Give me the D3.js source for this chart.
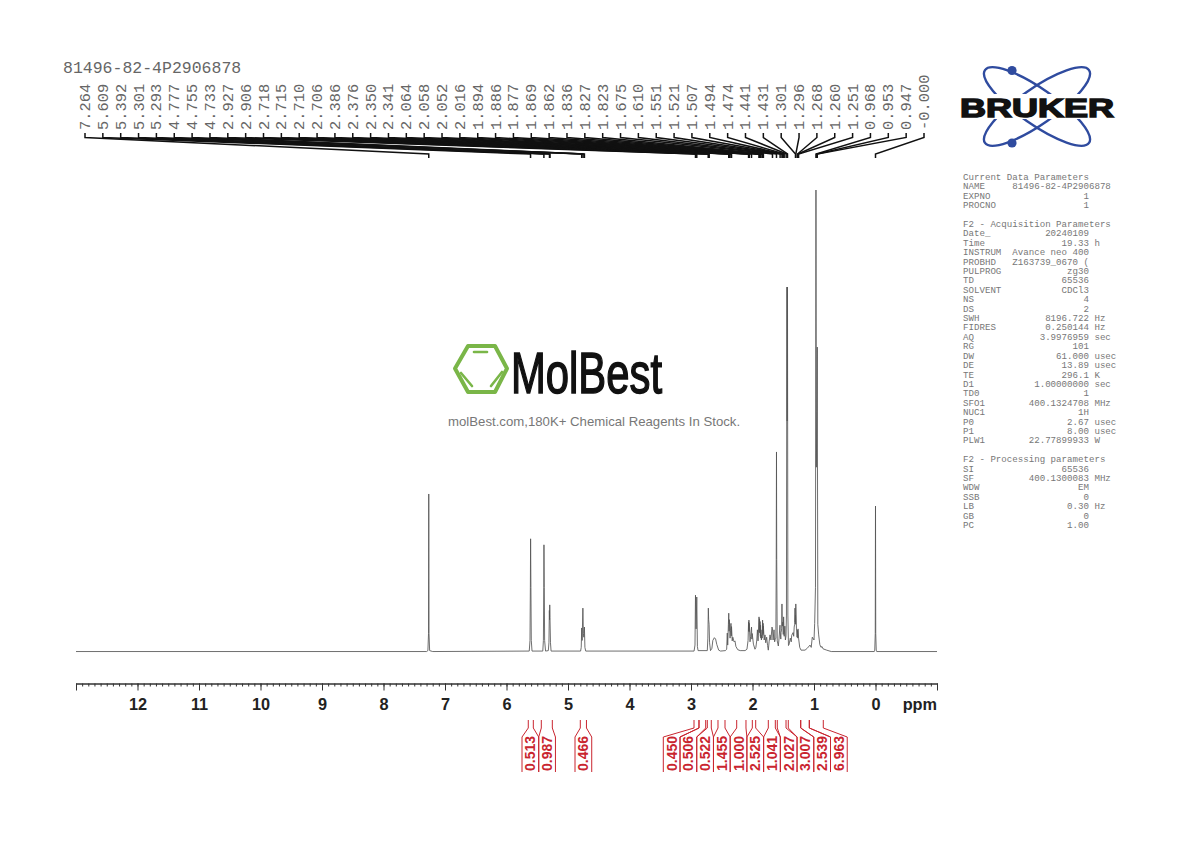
<!DOCTYPE html>
<html>
<head>
<meta charset="utf-8">
<script src="https://cdn.jsdelivr.net/npm/d3@7"></script>
<style>
  html, body { margin: 0; background: #fff; }
  svg { display: block; }
  .mono { font-family: "Liberation Mono", monospace; white-space: pre; }
  .sans { font-family: "Liberation Sans", Arial, sans-serif; }
</style>
</head>
<body>
<svg id="chart" width="1190" height="842"></svg>
<script>
const sampleName = '81496-82-4P2906878';

const peakLabels = [
  '7.264', '5.609', '5.392', '5.301', '5.293', '4.777', '4.755', '4.733',
  '2.927', '2.906', '2.718', '2.715', '2.710', '2.706', '2.386', '2.376',
  '2.350', '2.341', '2.064', '2.058', '2.052', '2.016', '1.894', '1.886',
  '1.877', '1.869', '1.862', '1.836', '1.827', '1.823', '1.675', '1.610',
  '1.551', '1.521', '1.507', '1.494', '1.474', '1.441', '1.431', '1.301',
  '1.296', '1.268', '1.260', '1.251', '0.968', '0.953', '0.947', '-0.000',
];

// [ppm, intensity], intensity is percent of the tallest line
const spectrumPoints = [
  [13, 0.1], [7.3, 0.1], [7.278, 0.3], [7.268, 4], [7.264, 34.2], [7.26, 4], [7.25, 0.3], [7.2, 0.1],
  [5.63, 0.2], [5.618, 2.5], [5.612, 14], [5.608, 24.5], [5.603, 14], [5.597, 2.5], [5.585, 0.2],
  [5.41, 0.2], [5.4, 2.5], [5.394, 14], [5.391, 23.2], [5.386, 14], [5.38, 2.5], [5.365, 0.2],
  [5.32, 0.3], [5.31, 2], [5.303, 9], [5.3, 7], [5.297, 10.2], [5.293, 7.5], [5.285, 2], [5.275, 0.2],
  [4.795, 0.2], [4.785, 1], [4.777, 5.2], [4.77, 2.5], [4.758, 9.5], [4.75, 4], [4.742, 3.2], [4.733, 5.4], [4.725, 1], [4.712, 0.2],
  [2.95, 0.2], [2.935, 1.5], [2.927, 12.3], [2.917, 5], [2.906, 11.9], [2.896, 1.2], [2.885, 0.3],
  [2.735, 0.3], [2.726, 3], [2.718, 9.5], [2.713, 7], [2.706, 6], [2.698, 2], [2.683, 0.3],
  [2.66, 0.8], [2.645, 2.5], [2.62, 3.1], [2.6, 2.8], [2.58, 1.6], [2.55, 0.4], [2.52, 0.2], [2.44, 0.3],
  [2.42, 0.6], [2.41, 4.1], [2.403, 1.5], [2.392, 6], [2.386, 8.4], [2.381, 4.5], [2.376, 7], [2.365, 3], [2.358, 4.6], [2.35, 6.2], [2.345, 3.5], [2.341, 5.5], [2.33, 2.4], [2.32, 3.2], [2.3, 2.2], [2.285, 2.4], [2.27, 1.2], [2.24, 0.5], [2.2, 0.3], [2.12, 0.3],
  [2.09, 0.6], [2.072, 2.5], [2.064, 6.5], [2.061, 4.5], [2.058, 6.9], [2.055, 4.4], [2.052, 6.2], [2.04, 2.2], [2.03, 3.4], [2.016, 5.4], [2.01, 2.8], [2.005, 4], [1.985, 1.7], [1.96, 0.6],
  [1.945, 1], [1.93, 2.6], [1.92, 4.8], [1.91, 2.4], [1.905, 3.5], [1.894, 7.6], [1.89, 4.3], [1.886, 7.2], [1.881, 4.1], [1.877, 6.6], [1.872, 3.4], [1.869, 5.8], [1.865, 3], [1.862, 4.8], [1.855, 2.6], [1.85, 3.6],
  [1.842, 3], [1.836, 6.9], [1.831, 3.6], [1.827, 6.2], [1.825, 4], [1.823, 5.6], [1.81, 2.6], [1.797, 3.7], [1.785, 2], [1.77, 3.2], [1.755, 1.4], [1.743, 0.4], [1.73, 2.2], [1.715, 3.7], [1.7, 2.6], [1.683, 5.4], [1.675, 5], [1.665, 2.6], [1.65, 4.8], [1.64, 2.2], [1.63, 2.8],
  [1.62, 3], [1.614, 20], [1.61, 43.3], [1.606, 20], [1.598, 2.4], [1.58, 1.3], [1.568, 3], [1.553, 5.8], [1.551, 4.6], [1.54, 2.8], [1.535, 4.2], [1.526, 5], [1.521, 10.4], [1.515, 5.6], [1.507, 6.5], [1.5, 3.8], [1.494, 7.6], [1.485, 3.4], [1.474, 5.6], [1.465, 2.6], [1.455, 3.5],
  [1.448, 8], [1.441, 79], [1.436, 50], [1.431, 79], [1.425, 8], [1.415, 1.4], [1.406, 1.6], [1.385, 3], [1.37, 2.2], [1.363, 3.6], [1.34, 4.2], [1.33, 3.4], [1.322, 5.4],
  [1.315, 6], [1.309, 9.5], [1.305, 6.5], [1.301, 8], [1.299, 6], [1.296, 10.4], [1.285, 5], [1.275, 3.2], [1.268, 4.7], [1.264, 3], [1.26, 5], [1.251, 3], [1.232, 1], [1.211, 0.4], [1.146, 0.4], [1.11, 0.8], [1.065, 1.5], [1.045, 1], [1.028, 3.2], [1.0, 2.6], [0.989, 6.2],
  [0.976, 14], [0.968, 100], [0.962, 40], [0.953, 52], [0.947, 66], [0.938, 6], [0.924, 3.7], [0.905, 1.6], [0.886, 1], [0.87, 1.2], [0.854, 0.7], [0.794, 0.4], [0.72, 0.1],
  [0.02, 0.1], [0.012, 0.4], [0.004, 4], [0, 31.6], [-0.004, 4], [-0.012, 0.4], [-0.02, 0.1], [-1, 0.1],
];

const integralValues = ['0.513', '0.987', '0.466', '0.450', '0.506', '0.522', '1.455', '1.000', '2.525', '1.041', '2.027', '3.007', '2.539', '6.963'];
const integralFrom = [5.646, 5.434, 4.80, 2.951, 2.870, 2.735, 2.561, 2.257, 2.003, 1.743, 1.597, 1.418, 1.216, 1.076];
const integralTo = [5.564, 5.255, 4.70, 2.870, 2.761, 2.670, 2.447, 2.106, 1.948, 1.629, 1.455, 1.216, 1.076, 0.849];

const majorTicks = d3.range(-1, 14);
const minorTicks = d3.range(-10, 131).map((d) => d / 10);

const paramRows = [
  'Current Data Parameters',
  ['NAME', sampleName],
  ['EXPNO', '1'],
  ['PROCNO', '1'],
  '',
  'F2 - Acquisition Parameters',
  ['Date_', '20240109'],
  ['Time', '19.33', 'h'],
  ['INSTRUM', 'Avance neo 400'],
  ['PROBHD', 'Z163739_0670 ('],
  ['PULPROG', 'zg30'],
  ['TD', '65536'],
  ['SOLVENT', 'CDCl3'],
  ['NS', '4'],
  ['DS', '2'],
  ['SWH', '8196.722', 'Hz'],
  ['FIDRES', '0.250144', 'Hz'],
  ['AQ', '3.9976959', 'sec'],
  ['RG', '101'],
  ['DW', '61.000', 'usec'],
  ['DE', '13.89', 'usec'],
  ['TE', '296.1', 'K'],
  ['D1', '1.00000000', 'sec'],
  ['TD0', '1'],
  ['SFO1', '400.1324708', 'MHz'],
  ['NUC1', '1H'],
  ['P0', '2.67', 'usec'],
  ['P1', '8.00', 'usec'],
  ['PLW1', '22.77899933', 'W'],
  '',
  'F2 - Processing parameters',
  ['SI', '65536'],
  ['SF', '400.1300083', 'MHz'],
  ['WDW', 'EM'],
  ['SSB', '0'],
  ['LB', '0.30', 'Hz'],
  ['GB', '0'],
  ['PC', '1.00'],
];

const svg = d3.select('#chart');
const red = '#c9252f';
const x = d3.scaleLinear().domain([13, -1]).range([76, 937]);
const y = d3.scaleLinear().domain([0, 100]).range([652, 190]);

function drawSpectrum() {
  const line = d3.line().x((d) => x(d[0])).y((d) => y(d[1]));
  svg.append('path')
    .datum(spectrumPoints)
    .attr('d', line)
    .attr('fill', 'none')
    .attr('stroke', '#555')
    .attr('stroke-width', 0.85);
}

function drawAxis() {
  const axisY = 683.5;
  const minor = svg.append('g').attr('transform', `translate(0,${axisY})`)
    .call(d3.axisBottom(x).tickValues(minorTicks).tickSize(3).tickSizeOuter(0).tickFormat(''));
  const major = svg.append('g').attr('transform', `translate(0,${axisY})`)
    .call(d3.axisBottom(x).tickValues(majorTicks).tickSize(7).tickSizeOuter(0).tickPadding(8)
      .tickFormat((d) => (d < 0 || d > 12 ? '' : d)));
  minor.selectAll('line,path').attr('stroke', '#333');
  major.selectAll('line,path').attr('stroke', '#333');
  major.selectAll('text')
    .attr('class', 'sans')
    .attr('font-size', 16.3)
    .attr('font-weight', 'bold')
    .attr('fill', '#222');
  svg.append('text')
    .attr('class', 'sans')
    .attr('x', 937)
    .attr('y', 710)
    .attr('text-anchor', 'end')
    .attr('font-size', 16.3)
    .attr('font-weight', 'bold')
    .attr('fill', '#222')
    .text('ppm');
}

function drawPeakLabels() {
  const labelX = d3.scalePoint().domain(peakLabels).range([85, 924]);
  svg.append('text')
    .attr('class', 'mono')
    .attr('x', 63)
    .attr('y', 73)
    .attr('font-size', 16.5)
    .attr('fill', '#666')
    .text(sampleName);

  svg.selectAll('.peak-label')
    .data(peakLabels)
    .join('text')
    .attr('class', 'mono peak-label')
    .attr('transform', (d) => `translate(${labelX(d) + 5},130) rotate(-90)`)
    .attr('font-size', 15.4)
    .attr('fill', '#666')
    .text((d) => d);

  svg.selectAll('.peak-leader')
    .data(peakLabels)
    .join('path')
    .attr('class', 'peak-leader')
    .attr('d', (d) => d3.line()([
      [labelX(d), 133], [labelX(d), 137.5], [x(+d), 154], [x(+d), 158],
    ]))
    .attr('fill', 'none')
    .attr('stroke', '#111')
    .attr('stroke-width', 1.5);
}

function drawIntegrals() {
  // three label groups sit side by side under the spectrum
  const groupStart = [522, 522, 575, 663.3, 663.3, 663.3, 663.3, 663.3, 663.3, 663.3, 663.3, 663.3, 663.3, 663.3];
  const groupIndex = [0, 1, 0, 0, 1, 2, 3, 4, 5, 6, 7, 8, 9, 10];
  const boxWidth = 16.72;
  const g = svg.append('g').attr('fill', 'none').attr('stroke', red).attr('stroke-width', 1);

  integralValues.forEach((value, i) => {
    const left = groupStart[i] + groupIndex[i] * boxWidth;
    const right = left + boxWidth;
    g.append('path').attr('d', d3.line()([
      [x(integralFrom[i]), 720], [x(integralFrom[i]), 728], [left, 737], [left, 772],
    ]));
    g.append('path').attr('d', d3.line()([
      [x(integralTo[i]), 720], [x(integralTo[i]), 728], [right, 737], [right, 772],
    ]));
    svg.append('text')
      .attr('class', 'sans')
      .attr('transform', `translate(${left + boxWidth / 2 + 5},771) rotate(-90)`)
      .attr('font-size', 14)
      .attr('font-weight', 'bold')
      .attr('fill', red)
      .text(value);
  });
}

function drawParameters() {
  const rowY = d3.scaleLinear().domain([0, 37]).range([180, 528]);
  const rowText = (row) => {
    if (typeof row === 'string') return row;
    const [name, value, unit] = row;
    return `${name.padEnd(9)}${value.padStart(14)}${unit ? ` ${unit}` : ''}`;
  };
  svg.selectAll('.param')
    .data(paramRows)
    .join('text')
    .attr('class', 'mono param')
    .attr('x', 963)
    .attr('y', (d, i) => rowY(i))
    .attr('font-size', 9.13)
    .attr('fill', '#777')
    .text(rowText);
}

function drawBrukerLogo() {
  const blue = '#2f4b9f';
  const logo = svg.append('g');
  [-35, 35].forEach((angle) => {
    logo.append('ellipse')
      .attr('transform', `translate(1037,106.5) rotate(${angle})`)
      .attr('rx', 63.5)
      .attr('ry', 17.8)
      .attr('fill', 'none')
      .attr('stroke', blue)
      .attr('stroke-width', 2.4);
  });
  logo.selectAll('circle')
    .data([70.5, 143])
    .join('circle')
    .attr('cx', 1012)
    .attr('cy', (d) => d)
    .attr('r', 4.6)
    .attr('fill', blue);
  logo.append('rect')
    .attr('x', 955).attr('y', 94).attr('width', 165).attr('height', 25)
    .attr('fill', '#fff');
  logo.append('text')
    .attr('class', 'sans')
    .attr('x', 960)
    .attr('y', 116.5)
    .attr('font-size', 25)
    .attr('font-weight', 'bold')
    .attr('textLength', 154)
    .attr('lengthAdjust', 'spacingAndGlyphs')
    .attr('fill', '#111')
    .attr('stroke', '#111')
    .attr('stroke-width', 1.4)
    .text('BRUKER');
}

function drawMolBestMark() {
  const green = '#7ab648';
  const mark = svg.append('g').attr('fill', 'none').attr('stroke', green).attr('stroke-linecap', 'round');
  mark.append('path')
    .attr('d', d3.line()([[455, 368.5], [468, 346], [495, 346], [507, 368.5], [495, 392], [468, 392]]) + 'Z')
    .attr('stroke-width', 4)
    .attr('stroke-linejoin', 'round');
  [
    [[474, 352], [487, 352]],
    [[461, 373], [472, 386]],
    [[502, 372], [491, 386]],
  ].forEach((seg) => {
    mark.append('path').attr('d', d3.line()(seg)).attr('stroke-width', 2.6);
  });
  svg.append('text')
    .attr('class', 'sans')
    .attr('x', 511)
    .attr('y', 393)
    .attr('font-size', 57)
    .attr('textLength', 151)
    .attr('lengthAdjust', 'spacingAndGlyphs')
    .attr('fill', '#111')
    .attr('stroke', '#111')
    .attr('stroke-width', 1.5)
    .text('MolBest');
  svg.append('text')
    .attr('class', 'sans')
    .attr('x', 448)
    .attr('y', 426)
    .attr('font-size', 13.2)
    .attr('fill', '#777')
    .text('molBest.com,180K+ Chemical Reagents In Stock.');
}

drawSpectrum();
drawAxis();
drawPeakLabels();
drawIntegrals();
drawParameters();
drawBrukerLogo();
drawMolBestMark();
</script>
</body>
</html>
